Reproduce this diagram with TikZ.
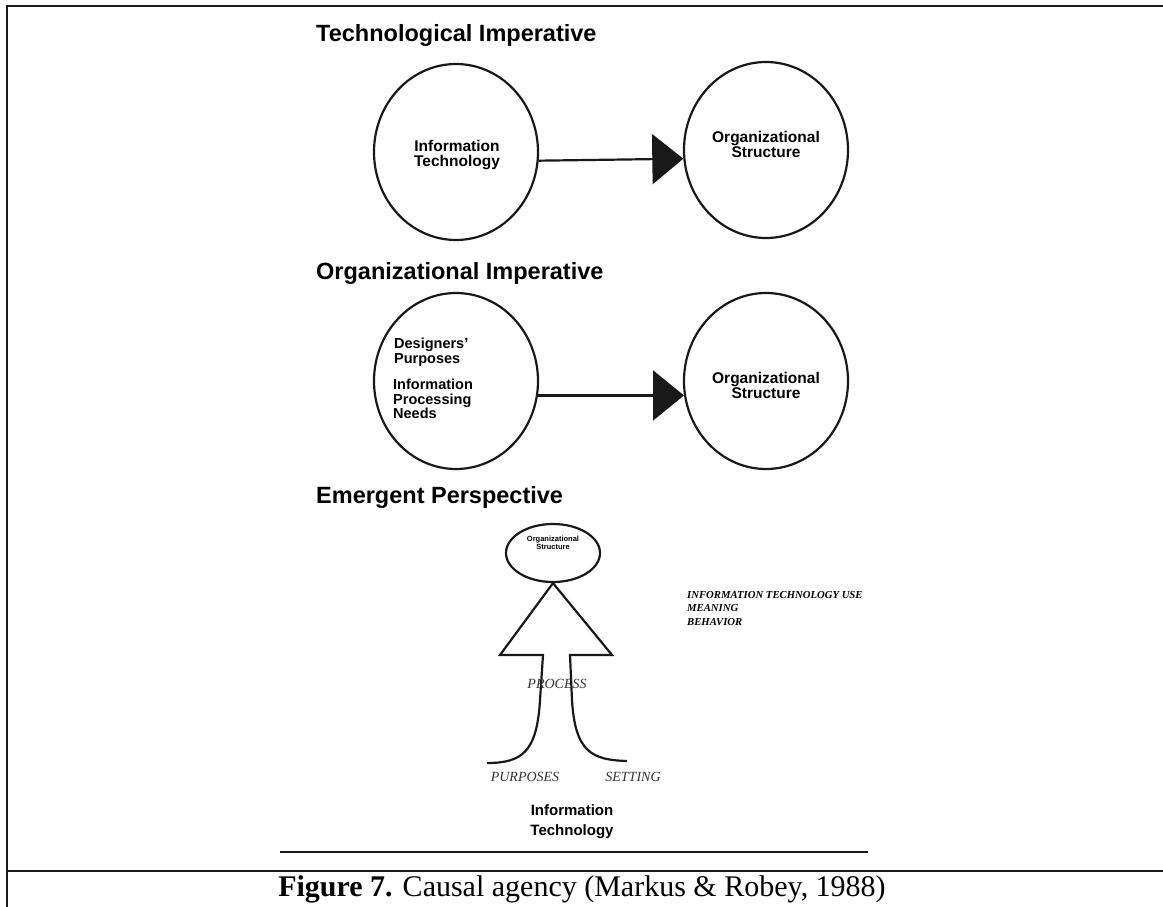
\documentclass[tikz,border=0pt]{standalone}
\usepackage{fontspec}
\setmainfont{Liberation Serif}
\setsansfont{Liberation Sans}
\usetikzlibrary{shapes.geometric,arrows.meta}
\begin{document}
\begin{tikzpicture}[x=1pt,y=-1pt,
  frame/.style={line width=2.6pt, draw=black!90},
  head/.style={anchor=west, inner sep=0, font=\sffamily\bfseries\fontsize{23.5}{26}\selectfont},
  bigcirc/.style={ellipse, draw=black!90, line width=2.2pt, minimum width=164pt, minimum height=176pt, inner sep=0},
  intext/.style={inner sep=0, font=\sffamily\bfseries\fontsize{15.5}{15}\selectfont},
  smalltext/.style={inner sep=0, font=\sffamily\bfseries\fontsize{14.5}{14.5}\selectfont},
  arr/.style={line width=2.2pt, draw=black!90, -{Triangle[length=31pt,width=50pt]}},
  ital/.style={inner sep=0, font=\itshape\fontsize{14}{16}\selectfont, text=black!80},
  shape line/.style={line width=2.2pt, draw=black!90, line join=miter}
]
\useasboundingbox (0,0) rectangle (1163,907);
% frame
\draw[frame] (7,907) -- (7,6) -- (1163,6);
\draw[frame] (7,871) -- (1163,871);
\draw[line width=2.4pt, draw=black!90] (280,852) -- (868,852);
\node[inner sep=0, font=\fontsize{30}{32}\selectfont] (cap) at (582,889)
  {\textbf{Figure 7.} Causal agency (Markus \& Robey, 1988)};

% Technological imperative
\node[head] (h1) at (316,35) {Technological Imperative};
\node[bigcirc] (c1) at (456,152) {};
\node[bigcirc] (c2) at (766,150) {};
\node[intext, align=center] (t1) at (457,155) {Information\\Technology};
\node[intext, align=center] (t2) at (766,144) {Organizational\\Structure};
\draw[arr] (c1.-6) -- (c2.186);

% Organizational imperative
\node[head] (h2) at (316,273) {Organizational Imperative};
\node[bigcirc] (c3) at (456,381) {};
\node[bigcirc] (c4) at (766,381) {};
\node[smalltext, anchor=west, align=left] (t3a) at (394,352) {Designers'\\Purposes};
\node[smalltext, anchor=west, align=left] (t3b) at (393,399) {Information\\Processing\\Needs};
\node[intext, align=center] (t4) at (766,385) {Organizational\\Structure};
\draw[arr] (c3.-10) -- (c4.190);

% Emergent perspective
\node[head] (h3) at (316,497) {Emergent Perspective};
\node[ellipse, draw=black!90, line width=2.2pt, minimum width=94pt, minimum height=58pt, inner sep=0] (e) at (553,553) {};
\node[inner sep=0, align=center, font=\sffamily\bfseries\fontsize{7.5}{8}\selectfont] (et) at (553,543) {Organizational\\Structure};
\coordinate (tl) at (500,655);
\coordinate (tr) at (612,655);
\coordinate (sl) at (543,655);
\coordinate (sr) at (570,655);
\coordinate (ll) at (487,763);
\coordinate (rr) at (627,761);
\draw[shape line] (e.south) -- (tl) -- (sl) -- (540,700) .. controls (537,752) and (522,763) .. (ll);
\draw[shape line] (e.south) -- (tr) -- (sr) -- (572,700) .. controls (575,752) and (592,760) .. (rr);
\node[ital] (proc) at (557,684) {PROCESS};
\node[ital] (purp) at (525,777) {PURPOSES};
\node[ital] (sett) at (633,777) {SETTING};
\node[inner sep=0, align=center, font=\sffamily\bfseries\fontsize{15}{20}\selectfont] (it) at (572,822) {Information\\Technology};
\node[inner sep=0, anchor=north west, align=left, font=\bfseries\itshape\fontsize{10.7}{13.5}\selectfont] (use) at (687,591)
  {INFORMATION TECHNOLOGY USE\\MEANING\\BEHAVIOR};
\end{tikzpicture}
\end{document}
